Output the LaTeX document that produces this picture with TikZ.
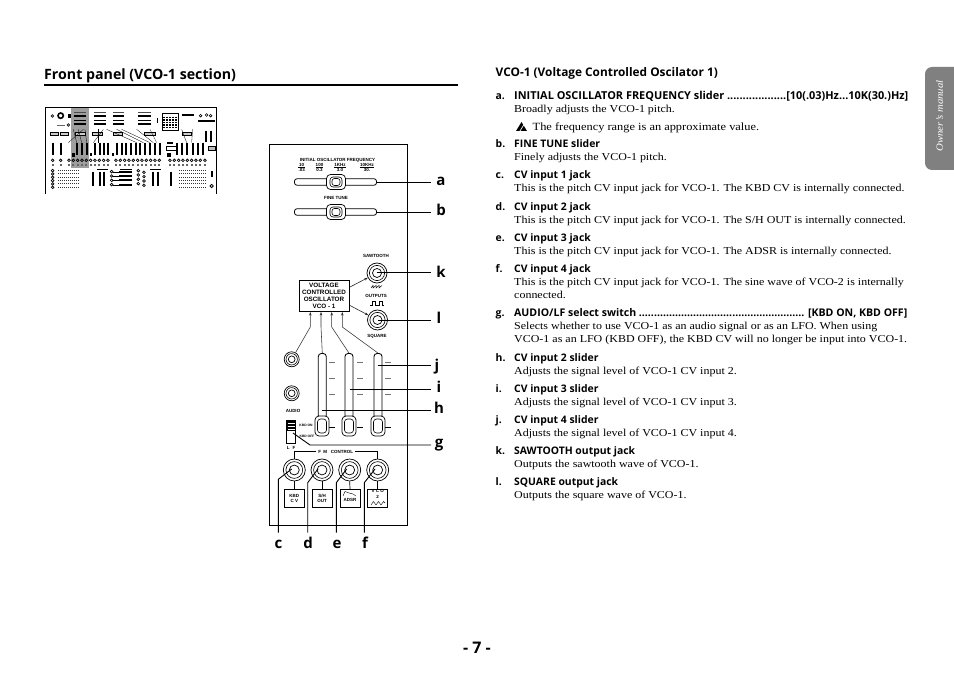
\documentclass[tikz,border=0pt]{standalone}
\usepackage{fontspec}
\setmainfont{Liberation Serif}[FakeStretch=1.125]
\newfontfamily\hd{Open Sans}
\newfontfamily\pn{Liberation Sans}
\usetikzlibrary{arrows.meta}
\newcommand{\hb}{\hd\bfseries}
\tikzset{
  x=1pt,y=-1pt,
  body/.style={anchor=base west,inner sep=0,yshift=-.8pt,font=\fontsize{10.65}{12}\selectfont},
  term/.style={anchor=base west,inner sep=0,yshift=-.8pt,font=\fontsize{10.4}{12}\hb},
  call/.style={anchor=base,inner sep=0,font=\fontsize{15}{16}\hb},
  tiny/.style={inner sep=0,align=center,font=\fontsize{4.5}{5}\pn\bfseries},
  micro/.style={inner sep=0,align=center,font=\fontsize{3.3}{4}\pn\bfseries},
  callout/.style={line width=.9pt,black},
  track/.style={draw,line width=.8pt,fill=white,rounded corners=2.5pt,inner sep=0},
  knob/.style={draw,line width=.7pt,fill=white,rounded corners=4pt,inner sep=0},
  srcbox/.style={draw,line width=.9pt,inner sep=0,minimum width=20pt,minimum height=18pt,align=center,font=\fontsize{4.5}{5.4}\pn\bfseries},
  jack/.style={draw,circle,line width=.7pt,fill=white,inner sep=0},
  arr/.style={line width=.6pt,black!85,-{Stealth[length=3.5pt,width=2.6pt]}},
}
\newcommand{\jackat}[4]{% name x y R
  \node[jack,minimum size=#4*2pt] (#1) at (#2,#3) {};
  \draw[line width=.6pt] (#1) circle[radius=#4*0.76];
  \draw[line width=.7pt] (#1) circle[radius=#4*0.45];
}
\newcommand{\hknob}[3]{% name x y
  \node[knob,minimum width=19pt,minimum height=15pt] (#1) at (#2,#3) {};
  \draw[line width=.6pt,rounded corners=3pt] (#2-6,#3-5) rectangle (#2+6,#3+5);
  \draw[line width=.6pt,rounded corners=2.5pt] (#2-4,#3-3.5) rectangle (#2+4,#3+3.5);
}
\newcommand{\vknob}[3]{% name x y
  \node[knob,minimum width=14pt,minimum height=20pt] (#1) at (#2,#3) {};
  \draw[line width=.6pt,rounded corners=3pt] (#2-4.5,#3-7) rectangle (#2+4.5,#3+7);
}
\begin{document}
\begin{tikzpicture}
\useasboundingbox (0,0) rectangle (954,676);
% headings
\node[anchor=base west,inner sep=0,font=\fontsize{14.2}{15}\hb] (title) at (44,80) {Front panel (VCO-1 section)};
\coordinate (ruleL) at (44,85); \coordinate (ruleR) at (458,85);
\draw[line width=1.3pt] (ruleL) -- (ruleR);
\node[anchor=base west,inner sep=0,font=\fontsize{11.85}{12}\hb] (head) at (495.5,76.8) {VCO-1 (Voltage Controlled Oscilator 1)};
% side tab
\fill[black!50,rounded corners=7pt] (925,67) rectangle (970,170);
\node[rotate=90,inner sep=0,text=white,font=\fontsize{9.6}{10}\itshape] (tab) at (939.5,116) {Owner's manual};
\node[inner sep=0,font=\fontsize{16}{18}\hb] (page) at (477,648) {- 7 -};
% text column
\newcommand{\itm}[3]{%
  \node[term] (l#1) at (495.5,#2) {#1.};
  \node[term] (t#1) at (514,#2) {#3};
}
\node[term] (la) at (495.5,98.5) {a.};
\node[term,font=\fontsize{10.92}{12}\hb] (ta) at (514,98.5) {INITIAL OSCILLATOR FREQUENCY slider ...................[10(.03)Hz…10K(30.)Hz]};
\node[body] (a1) at (514,112) {Broadly adjusts the VCO-1 pitch.};
\fill[black] (516,131) -- (521.5,122) -- (527,131) -- cycle;
\draw[white,line width=.7pt] (520,131) -- (524,124.5);
\node[body,font=\fontsize{11}{12}\selectfont] (an) at (532.5,130) {The frequency range is an approximate value.};
\itm{b}{147}{FINE TUNE slider}
\node[body] (b1) at (514,160) {Finely adjusts the VCO-1 pitch.};
\itm{c}{178}{CV input 1 jack}
\node[body] (c1) at (514,191) {This is the pitch CV input jack for VCO-1. The KBD CV is internally connected.};
\itm{d}{210}{CV input 2 jack}
\node[body] (d1) at (514,223) {This is the pitch CV input jack for VCO-1. The S/H OUT is internally connected.};
\itm{e}{241}{CV input 3 jack}
\node[body] (e1) at (514,254) {This is the pitch CV input jack for VCO-1. The ADSR is internally connected.};
\itm{f}{272}{CV input 4 jack}
\node[body] (f1) at (514,285) {This is the pitch CV input jack for VCO-1. The sine wave of VCO-2 is internally};
\node[body] (f2) at (514,298) {connected.};
\node[term] (lg) at (495.5,316) {g.};
\node[term,font=\fontsize{10.56}{12}\hb] (tg) at (514,316) {AUDIO/LF select switch ....................................................... [KBD ON, KBD OFF]};
\node[body] (g1) at (514,329) {Selects whether to use VCO-1 as an audio signal or as an LFO. When using};
\node[body] (g2) at (514,342) {VCO-1 as an LFO (KBD OFF), the KBD CV will no longer be input into VCO-1.};
\itm{h}{361}{CV input 2 slider}
\node[body] (h1) at (514,374) {Adjusts the signal level of VCO-1 CV input 2.};
\itm{i}{392}{CV input 3 slider}
\node[body] (i1) at (514,405) {Adjusts the signal level of VCO-1 CV input 3.};
\itm{j}{423}{CV input 4 slider}
\node[body] (j1) at (514,436) {Adjusts the signal level of VCO-1 CV input 4.};
\itm{k}{454}{SAWTOOTH output jack}
\node[body] (k1) at (514,467) {Outputs the sawtooth wave of VCO-1.};
\itm{l}{485}{SQUARE output jack}
\node[body] (l1) at (514,498) {Outputs the square wave of VCO-1.};
% thumbnail
\begin{scope}[shift={(40,100)},x=.3333pt,y=-.3333pt]
  \fill[black!38] (93,22) rectangle (147,203);
  \draw[line width=.6pt] (15,283) -- (15,22) -- (530,22) -- (530,283);
  \foreach \a/\b in {103/137,162/197,220/252,295/333}{
    \foreach \y in {48,62,72}{\draw[line width=1.5pt] (\a,\y) -- (\b,\y);}
    \draw[line width=.7pt,black!70] (\a,38) -- (\b,38);
  }
  \draw[line width=1.8pt] (425,45) -- (462,45);
  \draw[line width=1.8pt] (475,62) -- (525,62);
  \foreach \x in {372,381,390,399,408}{\draw[line width=1.6pt,densely dotted] (\x,50) -- (\x,85);}
  \draw[line width=.5pt] (368,40) rectangle (414,92);
  \draw[line width=1.6pt] (62,47) circle[radius=8];
  \foreach \x/\y in {37/48,85/75,482/47,512/47,500/45}{\draw[line width=.6pt] (\x,\y) circle[radius=4];}
  \fill (85,42) rectangle (92,55);
  \fill (350,55) rectangle (355,68);
  \draw[line width=.8pt,black!60] (50,75) -- (75,75);
  \foreach \x/\w in {30/25,60/25,105/30,158/28,220/28,312/34,428/26}{\draw[line width=.5pt,fill=black!20] (\x,96) rectangle ++(\w,10);}
  \foreach \x in {38,62,112,126,140,165,180,192,205,230,245,258,272,287,300,315,330,345,360,410,425,440,458,475,490}{
    \draw[line width=1.9pt] (\x,128) -- (\x,165);}
  \foreach \x in {498,512}{\draw[line width=1.9pt] (\x,92) -- (\x,125);}
  \foreach \a/\b in {85/130,110/100,125/115,140/135,160/190,175/175,290/200,310/230,330/245,340/290,350/330,440/425,455/458}{\draw[line width=.3pt] (\b,88) -- (\a,128);}
  \foreach \x in {38,62,87,100,113,126,139,152,165,178,191,204,228,241,254,267,280,293,306,319,332,345,358,390,403,416,429,442,455,468,481,495}{
    \draw[line width=.7pt] (\x,181) circle[radius=4];
    \fill[black!60] (\x-3,191) rectangle ++(6,6);}
  \fill (97,158) rectangle (105,170);
  \fill (150,158) rectangle (156,168);
  \fill (215,158) rectangle (221,168);
  \fill (382,125) rectangle (398,132);
  \fill (382,160) rectangle (392,170);
  \draw[line width=.5pt] (380,140) rectangle (412,150);
  \foreach \y in {212,222,232,242,252,262}{
    \draw[line width=.7pt] (38,\y) circle[radius=4];
    \draw[line width=1pt,densely dotted,black!80] (55,\y) -- (118,\y);
    \draw[line width=1pt,densely dotted,black!80] (418,\y) -- (498,\y);
  }
  \foreach \x in {158,180,192,340,355,392}{\draw[line width=1.9pt] (\x,215) -- (\x,258);}
  \draw[line width=1.2pt] (172,209) -- (205,209);
  \foreach \y in {215,228,241,254}{
    \draw[line width=.7pt] (215,\y) circle[radius=4];
    \draw[line width=2pt] (238,\y) -- (275,\y);
    \draw[line width=.7pt] (295,\y-3) circle[radius=4];
    \draw[line width=.7pt] (312,\y+2) circle[radius=4];
    \draw[line width=.3pt] (218,\y) -- (238,\y);
  }
  \draw[line width=1.2pt] (240,209) -- (275,209);
  \draw[line width=1.2pt] (330,208) -- (362,208);
  \fill (512,213) rectangle (518,232);
  \draw[line width=.8pt] (515,258) circle[radius=5];
  \draw[line width=.6pt,fill=black!25] (505,138) rectangle (525,150);
\end{scope}
% panel
\node[draw,line width=.95pt,minimum width=138.5pt,minimum height=380.5pt,inner sep=0] (panel) at (338.5,334.75) {};
\node[tiny] (ftitle) at (337.5,160) {INITIAL OSCILLATOR FREQUENCY};
\node[tiny] (s1) at (301.7,167.5) {10\\.03};
\node[tiny] (s2) at (319.5,167.5) {100\\0.3};
\node[tiny] (s3) at (340,167.5) {1KHz\\3.0};
\node[tiny] (s4) at (367,167.5) {10KHz\\30.};
\foreach \n in {s1,s2,s3,s4}{\draw[line width=.35pt] (\n.west|-\n.center) -- (\n.east|-\n.center);}
\node[tiny] (fine) at (336,198) {FINE TUNE};
\node[track,minimum width=82pt,minimum height=6.5pt] (trackA) at (335.5,182) {};
\node[track,minimum width=82pt,minimum height=6.5pt] (trackB) at (335.5,212) {};
\hknob{knobA}{336}{182}
\hknob{knobB}{336}{212}
% VCO box
\node[draw,line width=.9pt,minimum width=50pt,minimum height=31pt,inner sep=0,align=center,font=\fontsize{6.3}{7.1}\pn\bfseries] (vco) at (324,296) {VOLTAGE\\CONTROLLED\\OSCILLATOR\\VCO - 1};
\jackat{saw}{377}{273}{10}
\jackat{sqr}{377.5}{320}{10}
\node[tiny] (sawl) at (376,256) {SAWTOOTH};
\node[tiny] (outl) at (376,296) {OUTPUTS};
\node[tiny] (sqrl) at (377,336) {SQUARE};
\draw[line width=.5pt] (371,288) -- (373,285.5) -- (373,288) -- (376,285.5) -- (376,288) -- (379,285.5) -- (379,288) -- (382,285.5);
\draw[line width=.5pt] (370,305) -- (372,305) -- (372,301.5) -- (375.5,301.5) -- (375.5,305) -- (379,305) -- (379,301.5) -- (382.5,301.5) -- (382.5,305) -- (384,305);
\coordinate (vb1) at (310.3,312); \coordinate (vb2) at (321,312); \coordinate (vb3) at (331.7,312); \coordinate (vb4) at (342.3,312);
\coordinate (vr1) at (350,287); \coordinate (vr2) at (350,305.5);
\draw[arr] (vr1) -- (saw);
\draw[arr] (vr2) -- (sqr);
% inputs
\jackat{inA}{291.7}{359.3}{7.5}
\jackat{inB}{291.7}{393.3}{7.5}
\node[tiny] (audio) at (293,410.5) {AUDIO};
\node[draw,line width=.85pt,rounded corners=3pt,fill=white,minimum width=8pt,minimum height=65pt,inner sep=0] (sl1) at (322.3,386) {};
\node[draw,line width=.85pt,rounded corners=3pt,fill=white,minimum width=8pt,minimum height=65pt,inner sep=0] (sl2) at (349,386) {};
\node[draw,line width=.85pt,rounded corners=3pt,fill=white,minimum width=8pt,minimum height=65pt,inner sep=0] (sl3) at (378,386) {};
\foreach \a/\b in {329/335,357/363,385/391}{
  \foreach \y in {362,378,394}{\draw[line width=.5pt,black!55] (\a,\y) -- (\b,\y);}
  \draw[line width=.5pt] (\a,427) -- (\b,427);
}
\vknob{kn1}{322}{426}
\vknob{kn2}{349}{426}
\vknob{kn3}{378}{426}
\coordinate (m1) at (310.3,327); \coordinate (m2) at (321,327); \coordinate (m3) at (331.7,327); \coordinate (m4) at (342.3,327);
\draw[line width=.55pt,black!80,{Stealth[length=3.5pt,width=2.6pt]}-] (vb1) -- (m1) -- (inA);
\draw[line width=.55pt,black!80,{Stealth[length=3.5pt,width=2.6pt]}-] (vb2) -- (m2) -- (sl1.north);
\draw[line width=.55pt,black!80,{Stealth[length=3.5pt,width=2.6pt]}-] (vb3) -- (m3) -- (sl2.north);
\draw[line width=.55pt,black!80,{Stealth[length=3.5pt,width=2.6pt]}-] (vb4) -- (m4) -- (sl3.north);
% switch
\node[draw,line width=.8pt,fill=white,minimum width=9pt,minimum height=23pt,inner sep=0] (sw) at (291.2,431.7) {};
\fill (287,420.5) rectangle (295.5,431);
\foreach \y in {423.5,426.5,429}{\draw[white,line width=.5pt] (287.5,\y) -- (295,\y);}
\node[micro] (kon) at (306,425) {KBD ON};
\node[micro] (koff) at (307,436) {KBD OFF};
\node[tiny] (lf) at (291,447.5) {L\hspace{3pt}F};
% FM
\node[tiny] (fm) at (335.7,451.7) {F\hspace{1pt} M\hspace{2.5pt} CONTROL};
\jackat{jc}{294.3}{470}{11}
\jackat{jd}{322}{470}{11}
\jackat{je}{349.7}{470}{11}
\jackat{jf}{377.7}{470}{11}
\draw[line width=.6pt] (fm.west) ++(-2,0) -| (jc.north);
\draw[line width=.6pt] (fm.east) ++(2,0) -| (jf.north);
\node[srcbox] (bc) at (294.3,498.3) {KBD\\C V};
\node[srcbox] (bd) at (322,498.3) {S/H\\OUT};
\node[srcbox] (be) at (350,498.3) {\\[1.5pt]ADSR};
\node[srcbox] (bf) at (377.7,498.3) {V C O\\2\\[3pt]\mbox{}};
\draw[line width=.4pt] (343,496) -- (345,491.5) -- (349,493) -- (353,494) -- (356,496);
\draw[line width=.4pt] (371,505) -- (373.5,501.5) -- (376,505) -- (378.5,501.5) -- (381,505) -- (383.5,501.5) -- (385,503);
\foreach \a/\b in {jc/bc,jd/bd,je/be,jf/bf}{\draw[line width=.7pt] (\a.south) -- (\b.north);}
% callout labels
\node[call] (La) at (441,185.3) {a};
\node[call] (Lb) at (441,215.5) {b};
\node[call] (Lk) at (441,277.8) {k};
\node[call] (Ll) at (439,323.3) {l};
\node[call] (Lj) at (437,370.5) {j};
\node[call] (Li) at (439,393) {i};
\node[call] (Lh) at (439,414) {h};
\node[call] (Lg) at (439,447) {g};
\node[call] (Lc) at (278.5,548.3) {c};
\node[call] (Ld) at (308,548.3) {d};
\node[call] (Le) at (337,548.3) {e};
\node[call] (Lf) at (365,548.3) {f};
\coordinate (ea) at (431,182); \coordinate (eb) at (431,212);
\coordinate (ek) at (431,272.7); \coordinate (el) at (431,320);
\coordinate (ej) at (431,365.7); \coordinate (ei) at (431,389);
\coordinate (eh) at (431,410); \coordinate (eg) at (431,445);
\coordinate (sk) at (376.7,272.7); \coordinate (sl) at (378,320);
\coordinate (sj) at (377.7,365.7); \coordinate (si) at (349.7,389);
\coordinate (sh) at (321.7,410); \coordinate (sg) at (293,433); \coordinate (bg) at (310,445);
\draw[callout] (trackA.east) -- (ea);
\draw[callout] (trackB.east) -- (eb);
\draw[callout] (sk) -- (ek);
\draw[callout] (sl) -- (el);
\draw[callout] (sj) -- (ej);
\draw[callout] (si) -- (ei);
\draw[callout] (sh) -- (eh);
\draw[callout] (sg) -- (bg) -- (eg);
\foreach \sx/\bx/\by in {291.7/278.3/479.3,318/307.7/482.7,346.7/336.3/482.7,375/364.3/482.7}{
  \draw[callout] (\sx,469) -- (\bx,\by) -- (\bx,532.7);
}
\end{tikzpicture}
\end{document}
